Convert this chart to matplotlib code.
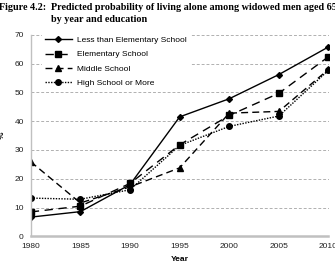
import numpy as np
import matplotlib
matplotlib.use("Agg")
import matplotlib.pyplot as plt

years = [1980, 1985, 1990, 1995, 2000, 2005, 2010]
less_elem = [6.7, 8.6, 18.0, 41.5, 47.8, 56.2, 65.8]
elementary = [8.5, 10.5, 18.4, 31.8, 42.0, 49.7, 62.4]
middle = [25.9, 11.6, 17.2, 23.8, 42.8, 43.4, 58.0]
high_school = [13.3, 12.9, 16.2, 31.6, 38.2, 41.8, 57.7]

labels = ["Less than Elementary School", "Elementary School",
          "Middle School", "High School or More"]

plt.rcParams["font.family"] = ["Liberation Sans", "DejaVu Sans"]

W, H = 335, 277
fig = plt.figure(figsize=(W / 100, H / 100), dpi=100)
ax = fig.add_axes([30.8 / W, 40.6 / H, 297.7 / W, 201.6 / H])

ax.plot(years, less_elem, "k-", lw=1.0, marker="D", ms=3, label=labels[0])
ax.plot(years, elementary, color="k", lw=1.0, ls=(0, (6, 4)), marker="s",
        ms=4.5, label=labels[1])
ax.plot(years, middle, color="k", lw=1.0, ls=(0, (5, 3)), marker="^",
        ms=4.5, label=labels[2])
ax.plot(years, high_school, color="k", lw=1.0, ls=(0, (1, 1)), marker="o",
        ms=4, label=labels[3])

ax.set_xlim(1980, 2010)
ax.set_ylim(0, 70)
ax.set_xticks(years)
ax.set_yticks(range(0, 71, 10))
ax.tick_params(labelsize=6, length=0, pad=5, labelcolor="#222222")
ax.yaxis.grid(True, ls=(0, (3, 2)), color="#b0b0b0", lw=0.7)
ax.set_axisbelow(True)
for s in ["top", "right"]:
    ax.spines[s].set_visible(False)
ax.spines["left"].set_color("#c0c0c0")
ax.spines["left"].set_linewidth(1.0)
ax.spines["bottom"].set_color("#c0c0c0")
ax.spines["bottom"].set_linewidth(1.8)

ax.set_xlabel("Year", fontsize=6, fontweight="bold", labelpad=4)
ax.set_ylabel("%", fontsize=6, fontweight="bold", rotation=90, labelpad=6)

leg = ax.legend(loc="upper left", fontsize=6, frameon=True, fancybox=False,
                edgecolor="none", facecolor="white", framealpha=1,
                handlelength=3.2, handletextpad=0.6, borderpad=0.4,
                labelspacing=0.75, borderaxespad=0,
                bbox_to_anchor=(0.036, 1.008))

serif = ["Liberation Serif", "DejaVu Serif"]
fig.text(-1 / W, 1 - 8 / H, "Figure 4.2:", fontsize=7.3, fontweight="bold",
         family=serif, va="center")
fig.text(51 / W, 1 - 8 / H,
         "Predicted probability of living alone among widowed men aged 65",
         fontsize=7.3, fontweight="bold", family=serif, va="center")
fig.text(51 / W, 1 - 20 / H, "by year and education", fontsize=7.3,
         fontweight="bold", family=serif, va="center")

fig.savefig("out.png", dpi=100)
